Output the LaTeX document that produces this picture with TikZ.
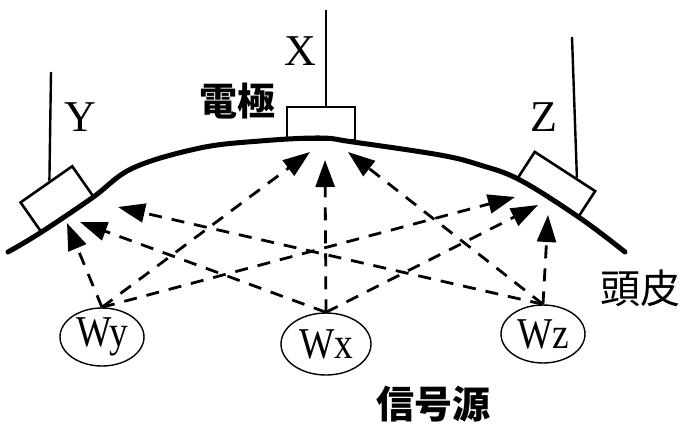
\documentclass[tikz,border=0pt]{standalone}
\usepackage{fontspec}
\usepackage{graphicx}
\setmainfont{Liberation Serif}
\newfontfamily\cjk{Noto Sans CJK JP}
\usetikzlibrary{arrows.meta,shapes.geometric,calc}
\begin{document}
\begin{tikzpicture}[x=1pt,y=-1pt,
  scalp/.style={line width=5pt, line cap=round, line join=round},
  elec/.style={draw, line width=2.6pt, inner sep=0pt, rectangle},
  wire/.style={line width=2.4pt},
  src/.style={draw, ellipse, line width=1.4pt, inner sep=0pt, font=\fontsize{44}{44}\selectfont},
  sig/.style={line width=2.8pt, dash pattern=on 13pt off 10pt, -{Triangle[length=27pt,width=19pt]}},
  lbl/.style={font=\fontsize{44}{44}\selectfont, inner sep=0pt},
  cjkb/.style={font=\cjk\bfseries\fontsize{38}{38}\selectfont, inner sep=0pt},
  cjkr/.style={font=\cjk\fontsize{40}{40}\selectfont, inner sep=0pt},
]
\path[use as bounding box] (0,0) rectangle (686,431);

% scalp
\draw[scalp] plot[smooth, tension=0.6] coordinates {(8,252) (40,233) (92,198) (133,168) (200,148) (260,141) (320,138) (353,142) (440,155) (480,165) (520,180) (580,218) (625,252)};

% electrodes
\node[elec, minimum width=63pt, minimum height=37pt, rotate=35] (Ye) at (57,199.5) {};
\node[elec, minimum width=68pt, minimum height=33pt] (Xe) at (321,123.5) {};
\node[elec, minimum width=72pt, minimum height=31pt, rotate=-33] (Ze) at (556.5,184.5) {};

% wires
\coordinate (Ytop) at (51,72);
\coordinate (Xtop) at (326,10);
\coordinate (Ztop) at (572,37);
\draw[wire] (Ytop) -- ($(Ye.north west)!0.57!(Ye.north east)$);
\draw[wire] (Xtop) -- (Xtop |- Xe.north);
\draw[wire] (Ztop) -- ($(Ze.north west)!0.68!(Ze.north east)$);

% labels
\node[lbl] (lY) at (80,117) {Y};
\node[lbl] (lX) at (300,51) {X};
\node[lbl] (lZ) at (544,117) {Z};
\node[cjkb] (lElec) at (237,101) {電極};
\node[cjkr] (lScalp) at (640,288) {頭皮};
\node[cjkb] (lSrc) at (433,404) {信号源};

% sources
\node[src, minimum width=84pt, minimum height=58pt] (Wy) at (102,337) {\makebox[0pt]{\scalebox{0.85}[1]{Wy}}};
\node[src, minimum width=90pt, minimum height=62pt] (Wx) at (326,344) {\makebox[0pt]{\scalebox{0.85}[1]{Wx}}};
\node[src, minimum width=84pt, minimum height=58pt] (Wz) at (543,334) {\makebox[0pt]{\scalebox{0.85}[1]{Wz}}};

% arrow tips
\coordinate (tY1) at (67,223);
\coordinate (tY2) at (80,222);
\coordinate (tY3) at (118,207);
\coordinate (tX1) at (310,152);
\coordinate (tX2) at (325,160);
\coordinate (tX3) at (348,152);
\coordinate (tZ1) at (515,197);
\coordinate (tZ2) at (538,205);
\coordinate (tZ3) at (548,215);

\draw[sig] (Wy.north) -- (tY1);
\draw[sig] (Wx.north) -- (tY2);
\draw[sig] (Wz.north) -- (tY3);
\draw[sig] (Wy.north) -- (tX1);
\draw[sig] (Wx.north) -- (tX2);
\draw[sig] (Wz.north) -- (tX3);
\draw[sig] (Wy.north) -- (tZ1);
\draw[sig] (Wx.north) -- (tZ2);
\draw[sig] (Wz.north) -- (tZ3);
\end{tikzpicture}
\end{document}
